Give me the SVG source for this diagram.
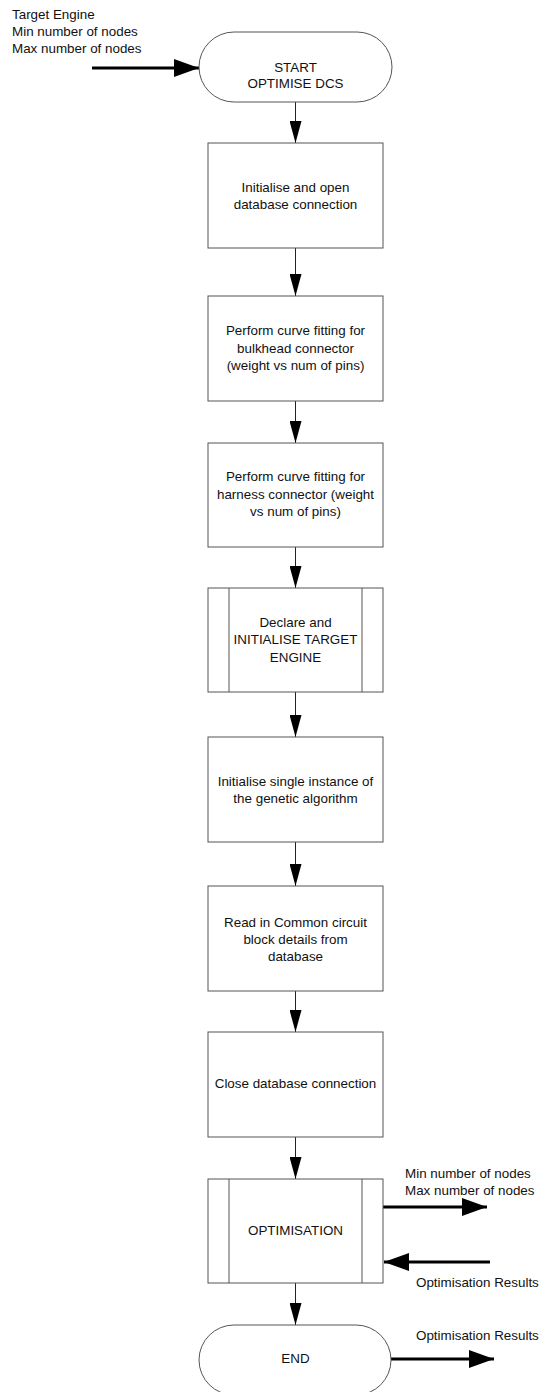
<svg xmlns="http://www.w3.org/2000/svg" width="542" height="1392" viewBox="0 0 542 1392">
<style>
.shape{fill:#fff;stroke:#555;stroke-width:1}
.t{font-family:"Liberation Sans",Arial,sans-serif;font-size:13.4px;fill:#111}
.m{text-anchor:middle}
.thin{stroke:#222;stroke-width:1;fill:none}
.thick{stroke:#000;stroke-width:3;fill:none}
</style>
<defs>
<marker id="ah" markerUnits="userSpaceOnUse" viewBox="0 0 22 12" markerWidth="22" markerHeight="12" refX="22" refY="6" orient="auto"><path d="M0,0 L22,6 L0,12 z" fill="#000"/></marker>
<marker id="ahb" markerUnits="userSpaceOnUse" viewBox="0 0 25 18" markerWidth="25" markerHeight="18" refX="25" refY="9" orient="auto"><path d="M0,0 L25,9 L0,18 z" fill="#000"/></marker>
</defs>
<rect width="542" height="1392" fill="#fff"/>

<g id="connectors">
<line class="thick" x1="92" y1="68" x2="199" y2="68" marker-end="url(#ahb)"/>
<line class="thin" x1="295.5" y1="102" x2="295.5" y2="143" marker-end="url(#ah)"/>
<line class="thin" x1="295.5" y1="248" x2="295.5" y2="296" marker-end="url(#ah)"/>
<line class="thin" x1="295.5" y1="401" x2="295.5" y2="443" marker-end="url(#ah)"/>
<line class="thin" x1="295.5" y1="547" x2="295.5" y2="588" marker-end="url(#ah)"/>
<line class="thin" x1="295.5" y1="692" x2="295.5" y2="737" marker-end="url(#ah)"/>
<line class="thin" x1="295.5" y1="842" x2="295.5" y2="886" marker-end="url(#ah)"/>
<line class="thin" x1="295.5" y1="991" x2="295.5" y2="1032" marker-end="url(#ah)"/>
<line class="thin" x1="295.5" y1="1137" x2="295.5" y2="1179" marker-end="url(#ah)"/>
<line class="thin" x1="295.5" y1="1283" x2="295.5" y2="1325" marker-end="url(#ah)"/>
<line class="thick" x1="383" y1="1207" x2="487" y2="1207" marker-end="url(#ahb)"/>
<line class="thick" x1="490" y1="1262" x2="384" y2="1262" marker-end="url(#ahb)"/>
<line class="thick" x1="391" y1="1359" x2="494" y2="1359" marker-end="url(#ahb)"/>
</g>

<g id="input-label">
<text class="t" x="12" y="19">Target Engine</text>
<text class="t" x="12" y="36">Min number of nodes</text>
<text class="t" x="12" y="53">Max number of nodes</text>
</g>

<g id="start">
<rect class="shape" x="199" y="32" width="193" height="70" rx="35" ry="35"/>
<text class="t m" x="295.5" y="72">START</text>
<text class="t m" x="295.5" y="88">OPTIMISE DCS</text>
</g>

<g id="box1">
<rect class="shape" x="208" y="143" width="175" height="105"/>
<text class="t m" x="295.5" y="192">Initialise and open</text>
<text class="t m" x="295.5" y="209">database connection</text>
</g>

<g id="box2">
<rect class="shape" x="208" y="296" width="175" height="105"/>
<text class="t m" x="295.5" y="335">Perform curve fitting for</text>
<text class="t m" x="295.5" y="352.5">bulkhead connector</text>
<text class="t m" x="295.5" y="370">(weight vs num of pins)</text>
</g>

<g id="box3">
<rect class="shape" x="208" y="443" width="175" height="104"/>
<text class="t m" x="295.5" y="481">Perform curve fitting for</text>
<text class="t m" x="295.5" y="498.5">harness connector (weight</text>
<text class="t m" x="295.5" y="516">vs num of pins)</text>
</g>

<g id="box4">
<rect class="shape" x="208" y="588" width="175" height="104"/>
<line class="shape" x1="229" y1="588" x2="229" y2="692"/>
<line class="shape" x1="362" y1="588" x2="362" y2="692"/>
<text class="t m" x="295.5" y="626.5">Declare and</text>
<text class="t m" x="295.5" y="644">INITIALISE TARGET</text>
<text class="t m" x="295.5" y="661.5">ENGINE</text>
</g>

<g id="box5">
<rect class="shape" x="208" y="737" width="175" height="105"/>
<text class="t m" x="295.5" y="786">Initialise single instance of</text>
<text class="t m" x="295.5" y="803">the genetic algorithm</text>
</g>

<g id="box6">
<rect class="shape" x="208" y="886" width="175" height="105"/>
<text class="t m" x="295.5" y="926.5">Read in Common circuit</text>
<text class="t m" x="295.5" y="944">block details from</text>
<text class="t m" x="295.5" y="961">database</text>
</g>

<g id="box7">
<rect class="shape" x="208" y="1032" width="175" height="105"/>
<text class="t m" x="295.5" y="1088">Close database connection</text>
</g>

<g id="box8">
<rect class="shape" x="208" y="1179" width="175" height="104"/>
<line class="shape" x1="229" y1="1179" x2="229" y2="1283"/>
<line class="shape" x1="362" y1="1179" x2="362" y2="1283"/>
<text class="t m" x="295.5" y="1235">OPTIMISATION</text>
</g>

<g id="end">
<rect class="shape" x="199" y="1325" width="192" height="70" rx="35" ry="35"/>
<text class="t m" x="295.5" y="1363">END</text>
</g>

<g id="output-labels">
<text class="t" x="405" y="1178">Min number of nodes</text>
<text class="t" x="405" y="1195">Max number of nodes</text>
<text class="t" x="416" y="1287">Optimisation Results</text>
<text class="t" x="416" y="1340">Optimisation Results</text>
</g>
</svg>
